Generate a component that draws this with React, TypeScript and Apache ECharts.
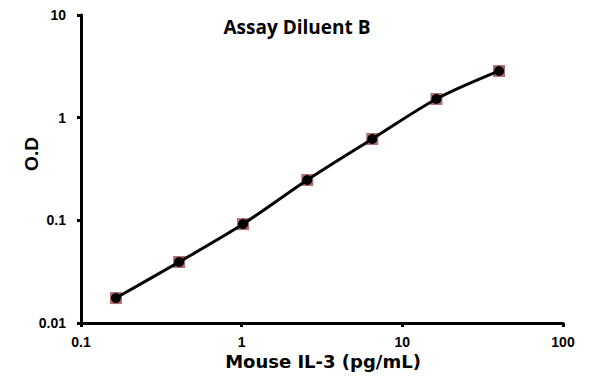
import React, { useEffect, useRef } from "react";
import * as echarts from "echarts";

const concentrations = [0.165, 0.408, 1.02, 2.56, 6.5, 16.3, 40];
const odValues = [0.0175, 0.0393, 0.092, 0.247, 0.62, 1.52, 2.85];
const titleText = "Assay Diluent B";
const xName = "Mouse IL-3 (pg/mL)";
const yName = "O.D";

export default function App() {
  const ref = useRef<HTMLDivElement>(null);
  useEffect(() => {
    if (!ref.current) return;
    const chart = echarts.init(ref.current, null, { renderer: "svg" });
    const pts = concentrations.map((c, i) => [c, odValues[i]]);
    const labelStyle = {
      fontFamily: "Liberation Sans, Arial, sans-serif",
      fontWeight: "bold" as const,
      fontSize: 14,
      color: "#000",
    };
    chart.setOption({
      animation: false,
      backgroundColor: "#fff",
      graphic: [
        {
          type: "text",
          x: 297,
          y: 27,
          style: {
            text: titleText,
            align: "center",
            verticalAlign: "middle",
            font: "bold 19px 'Open Sans', sans-serif",
            fill: "#000",
          },
        },
        {
          type: "text",
          x: 323,
          y: 361,
          style: {
            text: xName,
            align: "center",
            verticalAlign: "middle",
            font: "bold 18px 'DejaVu Sans', sans-serif",
            fill: "#000",
          },
        },
        {
          type: "text",
          x: 31,
          y: 154,
          rotation: Math.PI / 2,
          style: {
            text: yName,
            align: "center",
            verticalAlign: "middle",
            font: "bold 19px 'Liberation Sans', Arial, sans-serif",
            fill: "#000",
          },
        },
      ],
      grid: { left: 81, top: 15, width: 482, height: 308, containLabel: false },
      xAxis: {
        type: "log",
        logBase: 10,
        min: 0.1,
        max: 100,
        axisLine: { lineStyle: { color: "#000", width: 3 } },
        axisTick: { show: true, length: 4, lineStyle: { color: "#000", width: 3 } },
        axisLabel: { ...labelStyle, margin: 12, formatter: (v: number) => String(+v.toPrecision(3)) },
        splitLine: { show: false },
        minorTick: { show: false },
      },
      yAxis: {
        type: "log",
        logBase: 10,
        min: 0.01,
        max: 10,
        axisLine: { lineStyle: { color: "#000", width: 3 } },
        axisTick: { show: true, length: 4, lineStyle: { color: "#000", width: 3 } },
        axisLabel: { ...labelStyle, margin: 15, formatter: (v: number) => String(+v.toPrecision(3)) },
        splitLine: { show: false },
      },
      series: [
        {
          type: "scatter",
          data: pts,
          symbol: "rect",
          symbolSize: 12,
          itemStyle: { color: "#a24a4a" },
          z: 1,
        },
        {
          type: "line",
          data: pts,
          smooth: 0.3,
          symbol: "circle",
          symbolSize: 10,
          showSymbol: true,
          lineStyle: { color: "#000", width: 3 },
          itemStyle: { color: "#000", borderWidth: 0 },
          z: 2,
        },
      ],
    });
    return () => chart.dispose();
  }, []);
  return (
    <div
      ref={ref}
      style={{ position: "fixed", left: 0, top: 0, width: 595, height: 384 }}
    />
  );
}
